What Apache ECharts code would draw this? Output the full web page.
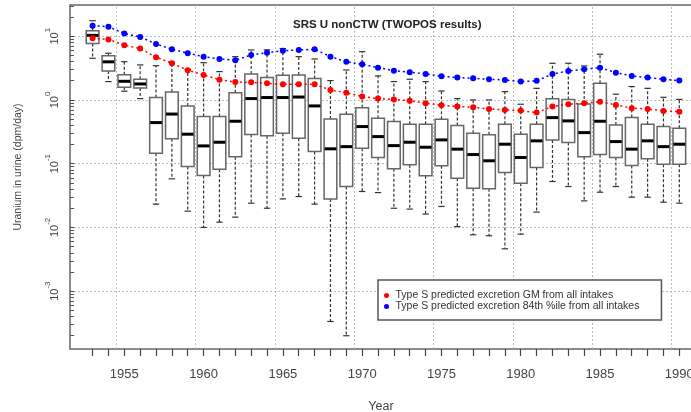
<!DOCTYPE html>
<html>
<head>
<meta charset="utf-8">
<script src="https://cdn.jsdelivr.net/npm/echarts@6/dist/echarts.min.js"></script>
<style>
  html, body { margin: 0; padding: 0; background: #fff; }
  #chart { width: 691px; height: 412px; }
</style>
</head>
<body>
<div id="chart"></div>
<script>
// ---- data ----
const YEARS = [1953,1954,1955,1956,1957,1958,1959,1960,1961,1962,1963,1964,1965,1966,1967,1968,1969,1970,1971,1972,1973,1974,1975,1976,1977,1978,1979,1980,1981,1982,1983,1984,1985,1986,1987,1988,1989,1990];
const WHISKER_LOW = [4.5,1.94,1.37,1.05,0.0232,0.0578,0.018,0.010,0.0121,0.0145,0.024,0.020,0.028,0.0305,0.0232,0.000335,0.0002,0.0366,0.0352,0.020,0.0194,0.0162,0.0213,0.0103,0.00766,0.0074,0.00462,0.00785,0.0174,0.0525,0.0438,0.0261,0.0357,0.0438,0.0298,0.0298,0.0249,0.024];
const Q1 = [7.7,2.85,1.58,1.54,0.146,0.247,0.090,0.065,0.082,0.129,0.286,0.273,0.30,0.25,0.155,0.0278,0.0438,0.175,0.125,0.083,0.0958,0.0644,0.0924,0.0592,0.0413,0.0403,0.0726,0.0494,0.0869,0.236,0.214,0.129,0.139,0.125,0.0935,0.119,0.0982,0.0982];
const MEDIAN = [10.3,3.96,1.96,1.78,0.441,0.60,0.29,0.19,0.217,0.463,1.05,1.09,1.09,1.11,0.805,0.171,0.185,0.382,0.266,0.192,0.217,0.181,0.236,0.169,0.139,0.111,0.202,0.125,0.228,0.528,0.469,0.307,0.463,0.222,0.169,0.228,0.185,0.202];
const Q3 = [12.2,4.95,2.49,2.11,1.09,1.33,0.805,0.548,0.548,1.29,2.55,2.24,2.44,2.46,2.16,0.504,0.597,0.757,0.516,0.457,0.416,0.416,0.498,0.396,0.30,0.283,0.416,0.29,0.416,1.04,1.02,0.866,1.82,0.406,0.528,0.416,0.382,0.36];
const WHISKER_HIGH = [17.5,5.4,3.98,3.54,3.45,3.9,3.0,3.84,2.78,4.77,6.08,6.1,6.4,4.77,4.39,2.01,2.95,5.72,2.38,1.94,2.11,1.94,1.38,1.05,1.0,1.0,1.35,0.856,1.52,3.76,3.76,3.41,5.2,1.23,1.62,1.52,1.10,1.02];
const GM = [9.3,8.9,7.2,6.4,4.67,3.76,2.92,2.46,2.08,1.91,1.89,1.82,1.76,1.76,1.76,1.43,1.30,1.13,1.05,1.02,0.97,0.887,0.826,0.787,0.768,0.723,0.697,0.68,0.633,0.787,0.856,0.887,0.94,0.835,0.741,0.723,0.672,0.655];
const P84 = [14.6,14.1,11.0,9.7,7.55,6.23,5.4,4.77,4.39,4.19,5.08,5.52,5.9,6.08,6.23,4.77,3.98,3.62,3.21,2.88,2.72,2.55,2.35,2.24,2.18,2.11,2.06,1.94,1.99,2.55,2.85,3.03,3.21,2.68,2.38,2.24,2.11,2.01];
const X_TICK_LABELS = [1955,1960,1965,1970,1975,1980,1985,1990];
const X_GRID_LINES = [1954.5,1959.5,1964.5,1969.5,1974.5,1979.5,1984.5,1989.5];
const Y_DECADES = [0.001, 0.01, 0.1, 1, 10];
const Y_MINOR_STEPS = [2,3,4,5,6,7,8,9];
const SERIES_NAMES = ['Type S predicted excretion GM from all intakes', 'Type S predicted excretion 84th %ile from all intakes'];
const TITLE = 'SRS U nonCTW (TWOPOS results)';
const X_NAME = 'Year';
const Y_NAME = 'Uranium in urine (dpm/day)';

// ---- axis extents ----
const XMIN = 1951.575, XMAX = 1990.80;
const YMIN = Math.pow(10, -3.907), YMAX = Math.pow(10, 1.489);
const BOX_HALF = 0.4;
const FONT = '"Liberation Sans", Arial, sans-serif';

// minor log ticks (2..9 x each decade, within the axis range)
const Y_MINOR_TICKS = [];
[0.0001].concat(Y_DECADES).forEach(d => Y_MINOR_STEPS.forEach(m => {
  const v = +(m * d).toPrecision(3);
  if (v > YMIN && v < YMAX) Y_MINOR_TICKS.push(v);
}));

const boxData = YEARS.map((y, i) => [y, WHISKER_LOW[i], Q1[i], MEDIAN[i], Q3[i], WHISKER_HIGH[i]]);

function renderBox(params, api) {
  const x = api.value(0);
  const lo = api.coord([x, api.value(1)]);
  const q1 = api.coord([x, api.value(2)]);
  const md = api.coord([x, api.value(3)]);
  const q3 = api.coord([x, api.value(4)]);
  const hi = api.coord([x, api.value(5)]);
  const xl = api.coord([x - BOX_HALF, api.value(3)])[0];
  const xr = api.coord([x + BOX_HALF, api.value(3)])[0];
  const w = xr - xl;
  const cx = md[0];
  const capHalf = w / 4;
  const dash = { stroke: '#333', lineWidth: 1.2, lineDash: [3, 2] };
  const solid = { stroke: '#333', lineWidth: 1.2 };
  return {
    type: 'group',
    children: [
      { type: 'line', shape: { x1: cx, y1: q3[1], x2: cx, y2: hi[1] }, style: dash },
      { type: 'line', shape: { x1: cx, y1: q1[1], x2: cx, y2: lo[1] }, style: dash },
      { type: 'line', shape: { x1: cx - capHalf, y1: hi[1], x2: cx + capHalf, y2: hi[1] }, style: solid },
      { type: 'line', shape: { x1: cx - capHalf, y1: lo[1], x2: cx + capHalf, y2: lo[1] }, style: solid },
      { type: 'rect', shape: { x: xl, y: q3[1], width: w, height: q1[1] - q3[1] }, style: { fill: '#fff', stroke: '#666', lineWidth: 1.5 } },
      { type: 'line', shape: { x1: xl + 0.5, y1: md[1], x2: xr - 0.5, y2: md[1] }, style: { stroke: '#000', lineWidth: 3 } }
    ]
  };
}

const chart = echarts.init(document.getElementById('chart'), null, { renderer: 'canvas' });
chart.setOption({
  animation: false,
  backgroundColor: '#fff',
  textStyle: { fontFamily: FONT },
  title: {
    text: TITLE,
    left: 293, top: 19,
    padding: 0,
    textStyle: { fontSize: 11.5, fontWeight: 'bold', color: '#222', fontFamily: FONT }
  },
  legend: {
    data: SERIES_NAMES,
    orient: 'vertical',
    left: 378, top: 280,
    padding: [10, 22, 8, 6],
    itemGap: 0,
    itemWidth: 8, itemHeight: 5,
    icon: 'circle',
    selectedMode: false,
    backgroundColor: '#fff',
    borderColor: '#555', borderWidth: 1.5, borderRadius: 0,
    textStyle: { fontSize: 10.5, color: '#333', fontFamily: FONT, lineHeight: 11, padding: [0, 0, 0, 0] }
  },
  grid: {
    left: 70, top: 5, right: -1, bottom: 63,
    outerBoundsMode: 'none',
    containLabel: false,
    show: true, borderColor: '#666', borderWidth: 1.5, backgroundColor: 'transparent'
  },
  xAxis: [
    {
      type: 'value', min: XMIN, max: XMAX,
      axisLine: { show: false },
      axisTick: { show: true, customValues: YEARS, length: 7, lineStyle: { color: '#444', width: 1.2 } },
      axisLabel: { customValues: X_TICK_LABELS, formatter: v => String(Math.round(v)), fontSize: 13, color: '#444', margin: 19, fontFamily: FONT },
      splitLine: { show: false },
      name: X_NAME, nameLocation: 'middle', nameGap: 51,
      nameTextStyle: { fontSize: 12.5, color: '#444', fontFamily: FONT }
    },
    {
      type: 'value', min: XMIN, max: XMAX, position: 'bottom',
      axisLine: { show: false },
      axisTick: { show: true, inside: true, customValues: X_GRID_LINES, length: 344, lineStyle: { color: '#bbb', width: 1, type: [2, 2] } },
      axisLabel: { show: false },
      splitLine: { show: false }
    }
  ],
  yAxis: [
    {
      type: 'log', min: YMIN, max: YMAX, logBase: 10,
      axisLine: { show: false },
      axisTick: { show: true, inside: true, customValues: Y_DECADES, length: 4, lineStyle: { color: '#444', width: 1 } },
      minorTick: { show: false },
      axisLabel: {
        customValues: Y_DECADES,
        rotate: 90, margin: 10, color: '#444',
        formatter: function (v) {
          const e = Math.round(Math.log10(v));
          return '{b|10}{s|' + e + '}';
        },
        rich: {
          b: { fontSize: 11, color: '#444', fontFamily: FONT, lineHeight: 16, verticalAlign: 'bottom' },
          s: { fontSize: 8, color: '#444', fontFamily: FONT, lineHeight: 16, verticalAlign: 'top' }
        }
      },
      splitLine: { show: true, lineStyle: { color: '#bbb', width: 1, type: [2, 2] } },
      name: Y_NAME, nameLocation: 'middle', nameGap: 46, nameRotate: 90,
      nameTextStyle: { fontSize: 10.5, color: '#444', fontFamily: FONT, padding: [0, 0, 0, 20] }
    },
    {
      type: 'log', min: YMIN, max: YMAX, logBase: 10, position: 'left',
      axisLine: { show: false },
      axisTick: { show: true, inside: true, customValues: Y_MINOR_TICKS, length: 4, lineStyle: { color: '#555', width: 1 } },
      axisLabel: { show: false },
      splitLine: { show: false }
    }
  ],
  series: [
    {
      type: 'custom', name: 'box', z: 2,
      renderItem: renderBox,
      encode: { x: 0, y: [1, 2, 3, 4, 5] },
      data: boxData,
      silent: true
    },
    {
      type: 'line', name: SERIES_NAMES[0], z: 3,
      data: YEARS.map((y, i) => [y, GM[i]]),
      symbol: 'circle', symbolSize: 6,
      itemStyle: { color: '#ff0000' },
      lineStyle: { color: '#ff0000', width: 1.5, type: [2, 3] }
    },
    {
      type: 'line', name: SERIES_NAMES[1], z: 3,
      data: YEARS.map((y, i) => [y, P84[i]]),
      symbol: 'circle', symbolSize: 6,
      itemStyle: { color: '#0000ff' },
      lineStyle: { color: '#0000ff', width: 1.5, type: [2, 3] }
    }
  ]
});
</script>
</body>
</html>
